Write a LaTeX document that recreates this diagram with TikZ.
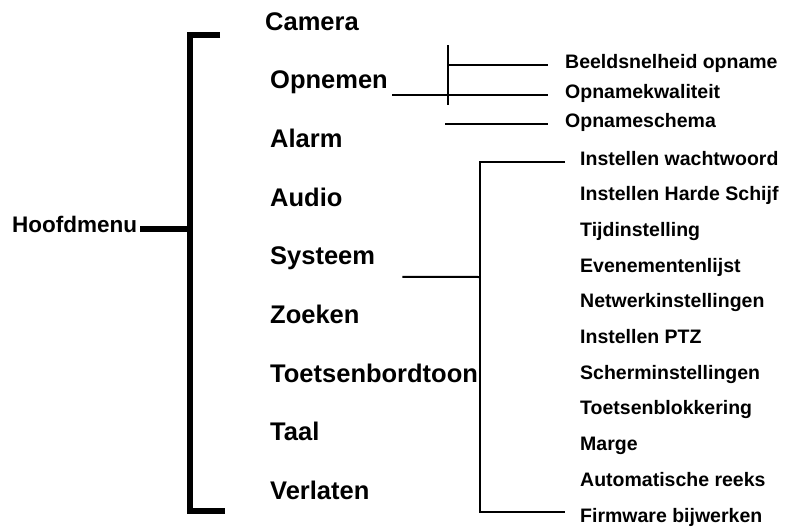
\documentclass[tikz,border=0pt]{standalone}
\usepackage{fontspec}
\setmainfont{Liberation Sans}
\usepackage{tikz}
\usetikzlibrary{calc}

\begin{document}
\begin{tikzpicture}[
    x=1pt, y=-1pt,
    root/.style={font=\fontsize{22.5}{27}\selectfont\bfseries, inner sep=0pt, anchor=base west},
    item/.style={font=\fontsize{25.5}{30}\selectfont\bfseries, inner sep=0pt, anchor=base west},
    sub/.style={font=\fontsize{19.5}{23}\selectfont\bfseries, inner sep=0pt, anchor=base west},
    bracket/.style={line width=6pt},
    link/.style={line width=2pt},
]
    \useasboundingbox (0,0) rectangle (785,528);
    % Root
    \node[root] (hm) at (12, 232) {Hoofdmenu};
    % Main menu
    \node[item] (cam) at (265, 30) {Camera};
    \foreach \name/\txt [count=\i] in {opn/Opnemen, alm/Alarm, aud/Audio, sys/Systeem,
        zoek/Zoeken, toon/Toetsenbordtoon, taal/Taal, verl/Verlaten} {
        \node[item] (\name) at (270, 30+\i*58.7) {\txt};
    }
    % Opnemen submenu
    \foreach \name/\txt/\y in {bsn/Beeldsnelheid opname/68, kwal/Opnamekwaliteit/98, schema/Opnameschema/127} {
        \node[sub] (\name) at (565, \y) {\txt};
    }
    % Systeem submenu
    \foreach \name/\txt [count=\i from 0] in {ww/Instellen wachtwoord, hds/Instellen Harde Schijf,
        tijd/Tijdinstelling, even/Evenementenlijst, net/Netwerkinstellingen, ptz/Instellen PTZ,
        scherm/Scherminstellingen, blok/Toetsenblokkering, marge/Marge,
        reeks/Automatische reeks, fw/Firmware bijwerken} {
        \node[sub] (\name) at (580, 165+\i*35.7) {\txt};
    }
    % Main bracket
    \coordinate (btop) at (220, 35);
    \coordinate (bbot) at (225, 511);
    \draw[bracket] (btop) -- (190, 35) -- (190, 511) -- (bbot);
    \draw[bracket] ($(hm.mid east)+(3,0)$) -- (190, 0 |- hm.mid east);
    % Opnemen links
    \coordinate (ov) at (448, 45);
    \draw[link] (ov) -- (448, 105);
    \draw[link] (448, 0 |- bsn.mid west) -- ($(bsn.mid west)+(-17,0)$);
    \draw[link] ($(opn.east |- kwal.mid west)+(4,0)$) -- ($(kwal.mid west)+(-17,0)$);
    \draw[link] (445, 0 |- schema.mid west) -- ($(schema.mid west)+(-17,0)$);
    % Systeem links
    \coordinate (sysv) at (480, 277);
    \draw[link] ($(sys.base east)+(27,12)$) -- (sysv);
    \draw[link] ($(ww.mid west)+(-15,0)$) -- (480, 0 |- ww.mid west) -- (480, 512)
        -- ($(fw.west |- 0,512)+(-15,0)$);
\end{tikzpicture}
\end{document}
